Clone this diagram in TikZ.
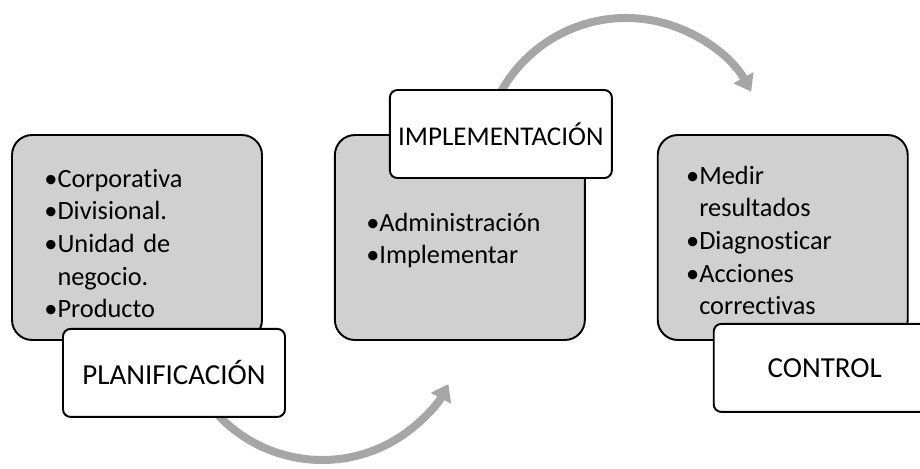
\documentclass[tikz,border=0pt]{standalone}
\usepackage{fontspec}
\setmainfont{Carlito}[Ligatures=NoCommon]
\usetikzlibrary{arrows.meta,positioning,backgrounds}
\definecolor{boxgray}{RGB}{208,208,208}
\definecolor{arcgray}{RGB}{166,166,166}

\begin{document}
\begin{tikzpicture}[
  x=0.02cm, y=0.02cm,
  font=\fontsize{15pt}{18.6pt}\selectfont, node distance=1.42cm,
  stage/.style={draw, line width=1.1pt, rounded corners=0.4cm, fill=boxgray,
                minimum width=5cm, minimum height=4.1cm},
  lbl/.style={draw, line width=1.1pt, rounded corners=0.15cm, fill=white,
              minimum width=4.44cm, minimum height=1.76cm, anchor=north west},
  items/.style={anchor=base west, inner sep=0pt, text width=4.2cm, align=left},
  flow/.style={-{Triangle[length=0.32cm, width=0.44cm]}, line width=0.16cm, arcgray},
]
\useasboundingbox (0,0) rectangle (920,468);
% ---------------- stages -----------------
\node[stage] (s1) at (137,230.5) {};
\node[stage, right=of s1] (s2) {};
\node[stage, right=of s2] (s3) {};
\node[items] (t1) at ([xshift=0.66cm, yshift=-1.06cm]s1.north west)
  {•Corporativa\\•Divisional.\\•Unidad de\\\hphantom{•}negocio.\\•Producto};
\node[items] (t2) at ([xshift=0.64cm, yshift=-1.94cm]s2.north west)
  {•Administración\\•Implementar};
\node[items] (t3) at ([xshift=0.58cm, yshift=-1.0cm]s3.north west)
  {•Medir\\\hphantom{•}resultados\\•Diagnosticar\\•Acciones\\\hphantom{•}correctivas};
% ---------------- labels -----------------
\node[lbl, font=\fontsize{16.5pt}{20pt}\selectfont] (plan)
  at ([xshift=1.02cm, yshift=0.26cm]s1.south west) {PLANIFICACIÓN};
\node[lbl, font=\fontsize{15.4pt}{20pt}\selectfont] (impl)
  at ([xshift=1.1cm, yshift=0.9cm]s2.north west) {IMPLEMENTACIÓN};
\node[lbl, font=\fontsize{16.5pt}{20pt}\selectfont] (ctrl)
  at ([xshift=1.12cm, yshift=0.36cm]s3.south west) {CONTROL};
% ---------------- arrows -----------------
\begin{scope}[on background layer]
  \coordinate (a1) at (205,69);
  \coordinate (a2) at (488,344);
  \draw[flow] (a1) arc[start angle=215, end angle=332, radius=143];
  \draw[flow] (a2) arc[start angle=165, end angle=29, radius=143];
\end{scope}
\end{tikzpicture}
\end{document}
